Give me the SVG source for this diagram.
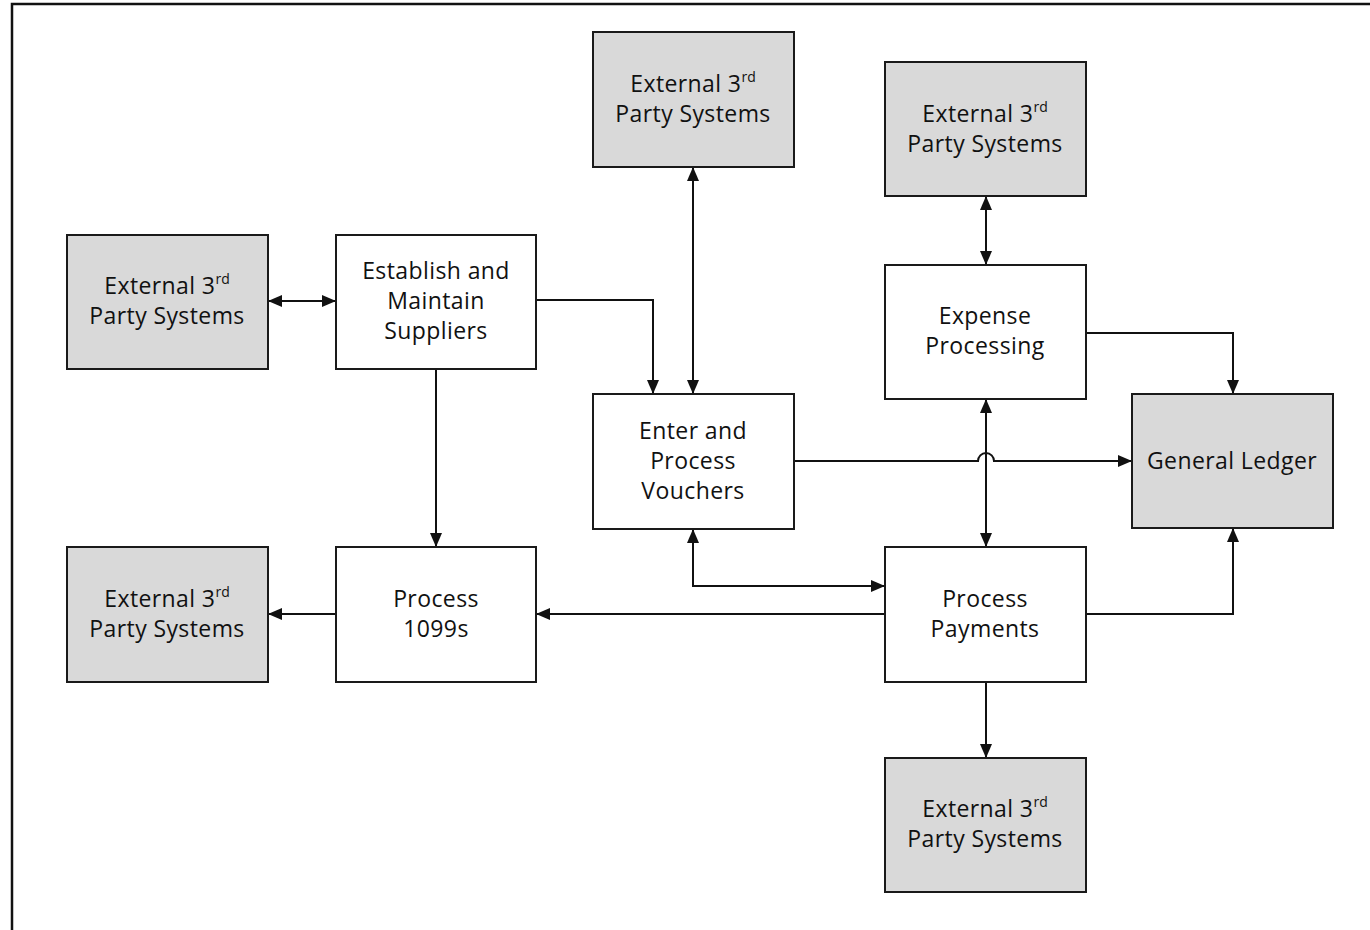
<svg xmlns="http://www.w3.org/2000/svg" width="1370" height="930" viewBox="0 0 1370 930">
  <style>
    .box { fill: #ffffff; stroke: #1a1a1a; stroke-width: 2; }
    .ext { fill: #d9d9d9; stroke: #1a1a1a; stroke-width: 2; }
    .lbl { font-family: "Open Sans", "Liberation Sans", sans-serif; font-size: 23px; letter-spacing: 0.4px; fill: #111; text-anchor: middle; }
    .sup { font-size: 14px; letter-spacing: 0; }
    .wire { fill: none; stroke: #111; stroke-width: 2; }
  </style>
  <defs>
    <marker id="arrow" viewBox="0 0 14 12" markerWidth="14" markerHeight="12" refX="14" refY="6" markerUnits="userSpaceOnUse" orient="auto-start-reverse">
      <path d="M0,0 L14,6 L0,12 z" fill="#111"/>
    </marker>
  </defs>

  <rect width="1370" height="930" fill="#ffffff"/>
  <!-- outer frame -->
  <path d="M12,935 L12,4 L1375,4" fill="none" stroke="#111" stroke-width="2.5"/>

  <!-- connectors -->
  <g id="connectors">
    <path class="wire" d="M268,301 L336,301" marker-start="url(#arrow)" marker-end="url(#arrow)"/>
    <path class="wire" d="M536,300 L653,300 L653,394" marker-end="url(#arrow)"/>
    <path class="wire" d="M693,167 L693,394" marker-start="url(#arrow)" marker-end="url(#arrow)"/>
    <path class="wire" d="M986,196 L986,265" marker-start="url(#arrow)" marker-end="url(#arrow)"/>
    <path class="wire" d="M1086,333 L1233,333 L1233,394" marker-end="url(#arrow)"/>
    <path class="wire" d="M794,461 L978,461 A8,8 0 0 1 994,461 L1132,461" marker-end="url(#arrow)"/>
    <path class="wire" d="M986,399 L986,547" marker-start="url(#arrow)" marker-end="url(#arrow)"/>
    <path class="wire" d="M436,369 L436,547" marker-end="url(#arrow)"/>
    <path class="wire" d="M693,529 L693,586 L885,586" marker-start="url(#arrow)" marker-end="url(#arrow)"/>
    <path class="wire" d="M885,614 L536,614" marker-end="url(#arrow)"/>
    <path class="wire" d="M336,614 L268,614" marker-end="url(#arrow)"/>
    <path class="wire" d="M1086,614 L1233,614 L1233,528" marker-end="url(#arrow)"/>
    <path class="wire" d="M986,682 L986,758" marker-end="url(#arrow)"/>
  </g>

  <g id="ext-suppliers">
    <rect class="ext" x="67" y="235" width="201" height="134"/>
    <text class="lbl" x="167" y="294">External 3<tspan class="sup" dy="-10">rd</tspan></text>
    <text class="lbl" x="167" y="324">Party Systems</text>
  </g>
  <g id="establish-suppliers">
    <rect class="box" x="336" y="235" width="200" height="134"/>
    <text class="lbl" x="436" y="279">Establish and</text>
    <text class="lbl" x="436" y="309">Maintain</text>
    <text class="lbl" x="436" y="339">Suppliers</text>
  </g>
  <g id="ext-vouchers">
    <rect class="ext" x="593" y="32" width="201" height="135"/>
    <text class="lbl" x="693" y="92">External 3<tspan class="sup" dy="-10">rd</tspan></text>
    <text class="lbl" x="693" y="122">Party Systems</text>
  </g>
  <g id="ext-expense">
    <rect class="ext" x="885" y="62" width="201" height="134"/>
    <text class="lbl" x="985" y="122">External 3<tspan class="sup" dy="-10">rd</tspan></text>
    <text class="lbl" x="985" y="152">Party Systems</text>
  </g>
  <g id="expense-processing">
    <rect class="box" x="885" y="265" width="201" height="134"/>
    <text class="lbl" x="985" y="324">Expense</text>
    <text class="lbl" x="985" y="354">Processing</text>
  </g>
  <g id="enter-vouchers">
    <rect class="box" x="593" y="394" width="201" height="135"/>
    <text class="lbl" x="693" y="439">Enter and</text>
    <text class="lbl" x="693" y="469">Process</text>
    <text class="lbl" x="693" y="499">Vouchers</text>
  </g>
  <g id="general-ledger">
    <rect class="ext" x="1132" y="394" width="201" height="134"/>
    <text class="lbl" x="1232" y="469">General Ledger</text>
  </g>
  <g id="ext-1099">
    <rect class="ext" x="67" y="547" width="201" height="135"/>
    <text class="lbl" x="167" y="607">External 3<tspan class="sup" dy="-10">rd</tspan></text>
    <text class="lbl" x="167" y="637">Party Systems</text>
  </g>
  <g id="process-1099s">
    <rect class="box" x="336" y="547" width="200" height="135"/>
    <text class="lbl" x="436" y="607">Process</text>
    <text class="lbl" x="436" y="637">1099s</text>
  </g>
  <g id="process-payments">
    <rect class="box" x="885" y="547" width="201" height="135"/>
    <text class="lbl" x="985" y="607">Process</text>
    <text class="lbl" x="985" y="637">Payments</text>
  </g>
  <g id="ext-payments">
    <rect class="ext" x="885" y="758" width="201" height="134"/>
    <text class="lbl" x="985" y="817">External 3<tspan class="sup" dy="-10">rd</tspan></text>
    <text class="lbl" x="985" y="847">Party Systems</text>
  </g>
</svg>
